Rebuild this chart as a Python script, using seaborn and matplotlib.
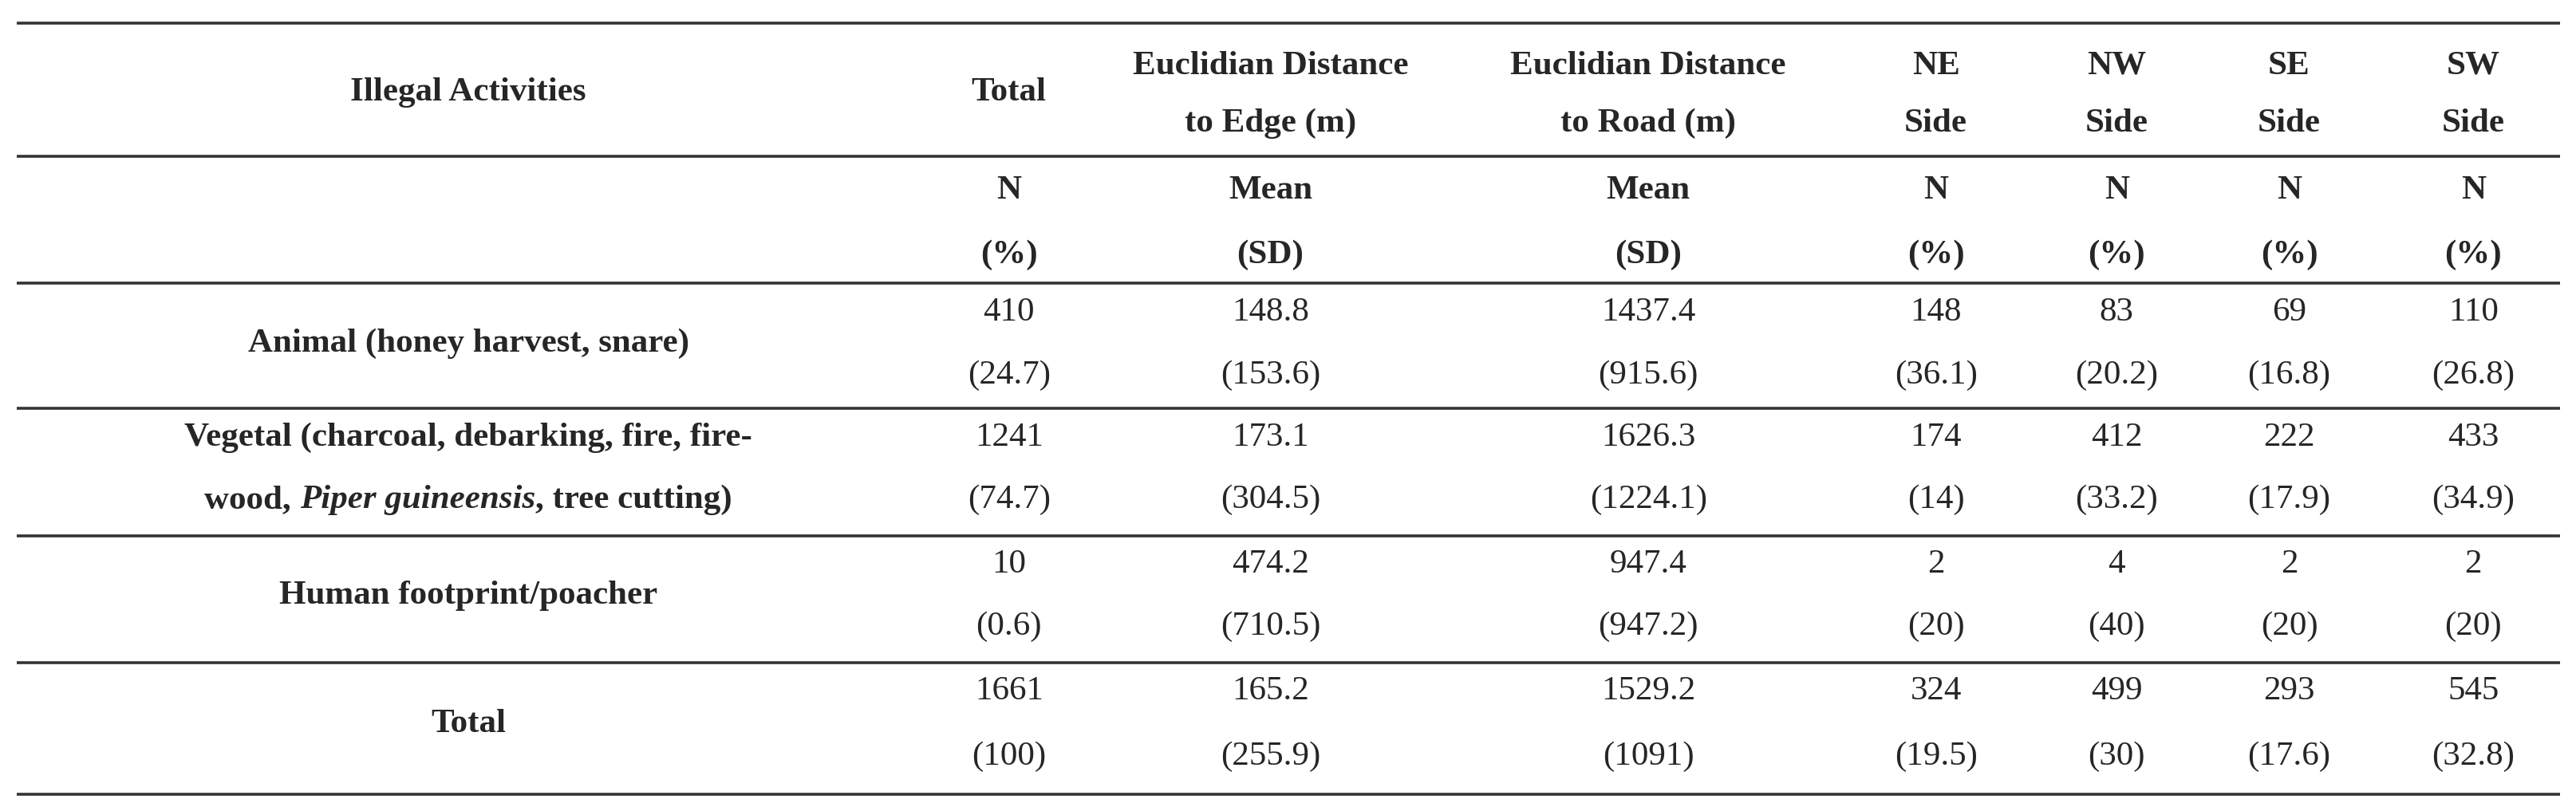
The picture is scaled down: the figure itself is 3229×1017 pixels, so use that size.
import matplotlib
matplotlib.use('Agg')
import matplotlib.pyplot as plt
import seaborn as sns

# column headers (two lines each) and sub-headers
headers = [
    ("Illegal Activities", ""),
    ("Total", ""),
    ("Euclidian Distance", "to Edge (m)"),
    ("Euclidian Distance", "to Road (m)"),
    ("NE", "Side"), ("NW", "Side"), ("SE", "Side"), ("SW", "Side"),
]
sub_top = ["", "N", "Mean", "Mean", "N", "N", "N", "N"]
sub_bot = ["", "(%)", "(SD)", "(SD)", "(%)", "(%)", "(%)", "(%)"]

activities = [
    "Animal (honey harvest, snare)",
    "Vegetal (charcoal, debarking, fire, fire-",
    "Human footprint/poacher",
    "Total",
]
totals_n = ["410", "1241", "10", "1661"]
totals_pct = ["(24.7)", "(74.7)", "(0.6)", "(100)"]
edge_mean = ["148.8", "173.1", "474.2", "165.2"]
edge_sd = ["(153.6)", "(304.5)", "(710.5)", "(255.9)"]
road_mean = ["1437.4", "1626.3", "947.4", "1529.2"]
road_sd = ["(915.6)", "(1224.1)", "(947.2)", "(1091)"]
ne_n = ["148", "174", "2", "324"]
ne_pct = ["(36.1)", "(14)", "(20)", "(19.5)"]
nw_n = ["83", "412", "4", "499"]
nw_pct = ["(20.2)", "(33.2)", "(40)", "(30)"]
se_n = ["69", "222", "2", "293"]
se_pct = ["(16.8)", "(17.9)", "(20)", "(17.6)"]
sw_n = ["110", "433", "2", "545"]
sw_pct = ["(26.8)", "(34.9)", "(20)", "(32.8)"]

sns.set_theme(style="white")
plt.rcParams['font.family'] = ['Liberation Serif', 'DejaVu Serif']

W, H = 1568, 493
fig = plt.figure(figsize=(32.3, 10.17), dpi=100)
ax = fig.add_axes([0, 0, 1, 1])
ax.set_xlim(0, W)
ax.set_ylim(H, 0)
ax.axis('off')

fs = 31
col_x = [285, 614, 773, 1003, 1178, 1288, 1393, 1505]

# rules
for y in [14, 95, 172, 248, 326, 403, 483]:
    ax.hlines(y, 10, 1558, color='#333333', lw=2.6)

# header
for x, (a, b) in zip(col_x, headers):
    if b:
        ax.text(x, 40, a, ha='center', va='center', fontsize=fs, weight='bold')
        ax.text(x, 75, b, ha='center', va='center', fontsize=fs, weight='bold')
    else:
        ax.text(x, 56, a, ha='center', va='center', fontsize=fs, weight='bold')
for x, a, b in zip(col_x, sub_top, sub_bot):
    ax.text(x, 116, a, ha='center', va='center', fontsize=fs, weight='bold')
    ax.text(x, 155, b, ha='center', va='center', fontsize=fs, weight='bold')

# body
tops = [190, 266, 343, 420]
bots = [228, 304, 381, 460]
cols = [(totals_n, totals_pct), (edge_mean, edge_sd), (road_mean, road_sd),
        (ne_n, ne_pct), (nw_n, nw_pct), (se_n, se_pct), (sw_n, sw_pct)]
for i in range(4):
    for x, (top, bot) in zip(col_x[1:], cols):
        ax.text(x, tops[i], top[i], ha='center', va='center', fontsize=fs)
        ax.text(x, bots[i], bot[i], ha='center', va='center', fontsize=fs)
    if i == 1:
        ax.text(col_x[0], tops[i], activities[i], ha='center', va='center',
                fontsize=fs, weight='bold')
    else:
        ax.text(col_x[0], (tops[i] + bots[i]) / 2, activities[i], ha='center',
                va='center', fontsize=fs, weight='bold')

# second line of the vegetal label, with italic species name
parts = [("wood, ", 'normal'), ("Piper guineensis", 'italic'),
         (", tree cutting)", 'normal')]
fig.canvas.draw()
r = fig.canvas.get_renderer()
texts = [ax.text(0, bots[1], s, ha='left', va='center', fontsize=fs,
                 weight='bold', style=st) for s, st in parts]
widths = [t.get_window_extent(r).width for t in texts]
total = sum(widths) * W / fig.bbox.width
x = col_x[0] - total / 2
for t, w in zip(texts, widths):
    t.set_x(x)
    x += w * W / fig.bbox.width

fig.savefig('out.png', dpi=100)
